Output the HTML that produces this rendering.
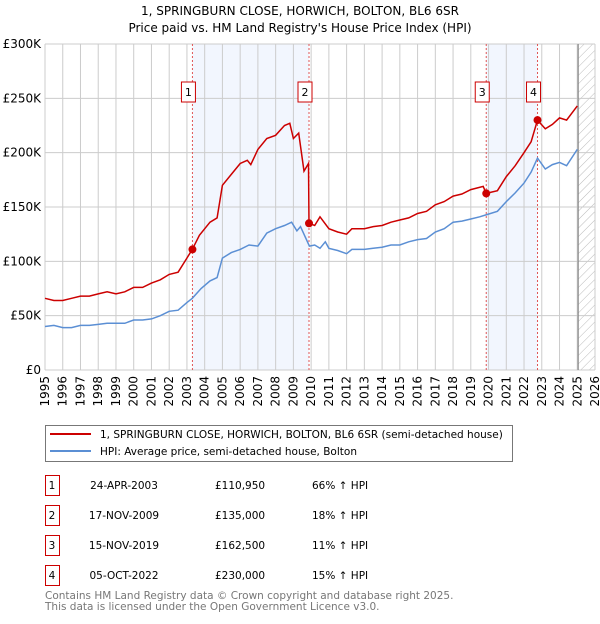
<!DOCTYPE html>
<html><head><meta charset="utf-8"><style>
body{margin:0;background:#fff;font-family:"DejaVu Sans","Liberation Sans",sans-serif;}
svg text{font-family:"DejaVu Sans","Liberation Sans",sans-serif;}
</style></head><body>
<svg id="c" width="600" height="620" xmlns="http://www.w3.org/2000/svg">
<defs><pattern id="hatch" width="6" height="6" patternUnits="userSpaceOnUse" patternTransform="rotate(45)"><line x1="0" y1="0" x2="0" y2="6" stroke="#bbb" stroke-width="1"/></pattern></defs>
<text x="300" y="15" text-anchor="middle" font-size="12" fill="#000">1, SPRINGBURN CLOSE, HORWICH, BOLTON, BL6 6SR</text>
<text x="300" y="32" text-anchor="middle" font-size="12" fill="#000">Price paid vs. HM Land Registry's House Price Index (HPI)</text>
<g id="plot"></g>
<g>
<rect x="45.5" y="425.5" width="467" height="36" fill="#fff" stroke="#777"/>
<line x1="50" y1="434" x2="91" y2="434" stroke="#cc0000" stroke-width="2"/>
<text x="100" y="438" font-size="10.5">1, SPRINGBURN CLOSE, HORWICH, BOLTON, BL6 6SR (semi-detached house)</text>
<line x1="50" y1="451" x2="91" y2="451" stroke="#5b8fd4" stroke-width="2"/>
<text x="100" y="455" font-size="10.5">HPI: Average price, semi-detached house, Bolton</text>
</g>
<g id="table" font-size="10.5"></g>
<text x="45" y="599" font-size="10.5" fill="#777">Contains HM Land Registry data © Crown copyright and database right 2025.</text>
<text x="45" y="610" font-size="10.5" fill="#777">This data is licensed under the Open Government Licence v3.0.</text>
</svg>
<script>
const hpiYears=[1995,1995.5,1996,1996.5,1997,1997.5,1998,1998.5,1999,1999.5,2000,2000.5,2001,2001.5,2002,2002.5,2003,2003.3,2003.8,2004.3,2004.7,2005,2005.5,2006,2006.5,2007,2007.5,2008,2008.5,2008.9,2009.2,2009.4,2009.9,2010.2,2010.5,2010.8,2011,2011.5,2012,2012.3,2013,2013.5,2014,2014.5,2015,2015.5,2016,2016.5,2017,2017.5,2018,2018.5,2019,2019.5,2019.9,2020.5,2021,2021.5,2022,2022.4,2022.76,2023.2,2023.6,2024,2024.4,2025];
const hpiValues=[40,41,39,39,41,41,42,43,43,43,46,46,47,50,54,55,62,66,75,82,85,103,108,111,115,114,126,130,133,136,128,132,114,115,112,118,112,110,107,111,111,112,113,115,115,118,120,121,127,130,136,137,139,141,143,146,155,163,172,182,195,185,189,191,188,203];
const ppYears=[1995,1995.5,1996,1996.5,1997,1997.5,1998,1998.5,1999,1999.5,2000,2000.5,2001,2001.5,2002,2002.5,2003,2003.3,2003.7,2004.3,2004.7,2005,2005.5,2006,2006.4,2006.6,2007,2007.5,2008,2008.5,2008.8,2009,2009.3,2009.6,2009.85,2009.88,2010.2,2010.5,2011,2011.5,2012,2012.3,2013,2013.5,2014,2014.5,2015,2015.5,2016,2016.5,2017,2017.5,2018,2018.5,2019,2019.7,2019.87,2020.5,2021,2021.5,2022,2022.4,2022.76,2023.2,2023.6,2024,2024.4,2025];
const ppValues=[66,64,64,66,68,68,70,72,70,72,76,76,80,83,88,90,103,111,124,136,140,170,180,190,193,189,203,213,216,225,227,213,218,183,190,135,133,141,130,127,125,130,130,132,133,136,138,140,144,146,152,155,160,162,166,169,162.5,165,178,188,200,210,230,222,226,232,230,243];
const saleLabels=["1","2","3","4"];
const saleYears=[2003.31,2009.88,2019.87,2022.76];
const saleValues=[110.95,135,162.5,230];
const saleDates=["24-APR-2003","17-NOV-2009","15-NOV-2019","05-OCT-2022"];
const salePrices=["£110,950","£135,000","£162,500","£230,000"];
const saleHpi=["66% ↑ HPI","18% ↑ HPI","11% ↑ HPI","15% ↑ HPI"];
const yTicks=[0,50,100,150,200,250,300];
const yTickLabels=["£0","£50K","£100K","£150K","£200K","£250K","£300K"];
const xTicks=[1995,1996,1997,1998,1999,2000,2001,2002,2003,2004,2005,2006,2007,2008,2009,2010,2011,2012,2013,2014,2015,2016,2017,2018,2019,2020,2021,2022,2023,2024,2025,2026];

const X0=45,X1=595,Y0=370,Y1=44;
const x=v=>X0+(v-1995)/(2026-1995)*(X1-X0);
const y=v=>Y0-(v/300)*(Y0-Y1);
const NS="http://www.w3.org/2000/svg";
const plot=document.getElementById('plot');
function mk(tag,attrs,parent){const e=document.createElementNS(NS,tag);for(const k in attrs)e.setAttribute(k,attrs[k]);(parent||plot).appendChild(e);return e;}

let b=mk('rect',{x:x(saleYears[0]),y:Y1,width:x(saleYears[1])-x(saleYears[0]),height:Y0-Y1,fill:'#f2f6fe'});


b=mk('rect',{x:x(saleYears[2]),y:Y1,width:x(saleYears[3])-x(saleYears[2]),height:Y0-Y1,fill:'#f2f6fe'});


const hx=x(2025.05);
b=mk('rect',{x:hx,y:Y1,width:X1-hx,height:Y0-Y1,fill:'url(#hatch)'});


xTicks.forEach((t,i)=>{
 const g=mk('line',{x1:x(t),x2:x(t),y1:Y1,y2:Y0,stroke:'#ccc','stroke-width':1});
 
 
 const tx=mk('text',{x:0,y:0,'font-size':12,'text-anchor':'end',transform:`translate(${x(t)+4},${Y0+6}) rotate(-90)`});
 tx.textContent=t;
 
 
});
yTicks.forEach((t,i)=>{
 const g=mk('line',{x1:X0,x2:X1,y1:y(t),y2:y(t),stroke:'#ccc','stroke-width':1});
 
 
 const tx=mk('text',{x:X0-4,y:y(t)+4,'font-size':12,'text-anchor':'end'});
 tx.textContent=yTickLabels[i];
 
 
});
let nl=mk('line',{x1:hx,x2:hx,y1:Y1,y2:Y0,stroke:'#888','stroke-width':1.2});


saleYears.forEach((s,i)=>{
 const l=mk('line',{x1:x(s),x2:x(s),y1:Y1,y2:Y0,stroke:'#e05555','stroke-width':1,'stroke-dasharray':'2,2'});
 
 
 const r=mk('rect',{x:x(s)-11,y:82,width:14,height:20,fill:'#fff',stroke:'#cc0000'});
 
 
 const t=mk('text',{x:x(s)-4,y:96,'font-size':11,'text-anchor':'middle'});
 t.textContent=saleLabels[i];
 
 
});
const path=(xs,vs)=>xs.map((t,i)=>(i?'L':'M')+x(t).toFixed(1)+','+y(vs[i]).toFixed(1)).join('');
let p=mk('path',{d:path(hpiYears,hpiValues),fill:'none',stroke:'#5b8fd4','stroke-width':1.5});


p=mk('path',{d:path(ppYears,ppValues),fill:'none',stroke:'#cc0000','stroke-width':1.5});


saleYears.forEach((s,i)=>{
 const c=mk('circle',{cx:x(s),cy:y(saleValues[i]),r:4,fill:'#cc0000'});
 
 
});
const tb=document.getElementById('table');
saleLabels.forEach((s,i)=>{
 const yy=475+i*30;
 const r=mk('rect',{x:45.5,y:yy+0.5,width:14,height:20,fill:'#fff',stroke:'#cc0000'},tb);
 
 
 const vals=[[52,s,'middle'],[124,saleDates[i],'middle'],[215,salePrices[i],'start'],[312,saleHpi[i],'start']];
 vals.forEach(v=>{const t=mk('text',{x:v[0],y:yy+14,'text-anchor':v[2]},tb);t.textContent=v[1];
  
  });
});
</script>
</body></html>
